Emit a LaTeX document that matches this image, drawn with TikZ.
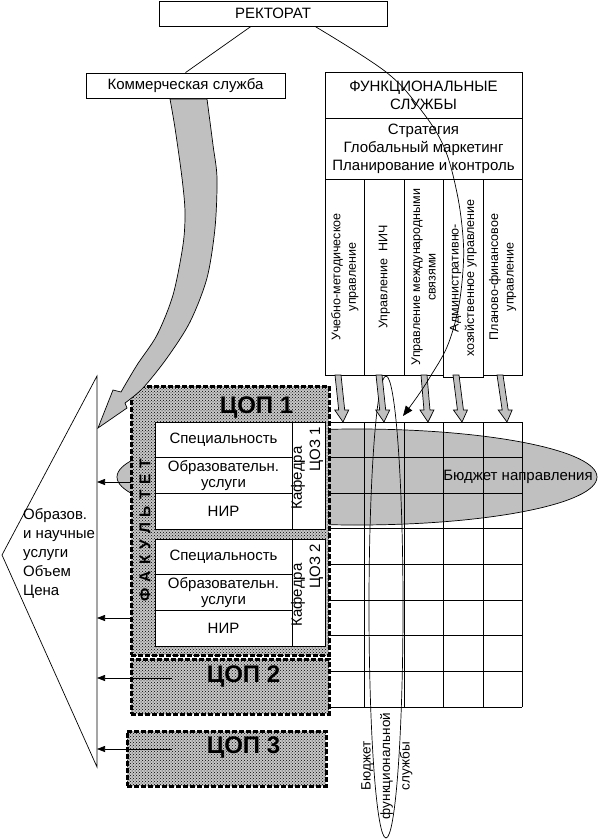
\documentclass[tikz,border=0pt]{standalone}
\usepackage{fontspec}
\setmainfont{Liberation Sans}
\usetikzlibrary{arrows.meta,patterns}
\definecolor{silver}{RGB}{192,192,192}

\begin{document}
\begin{tikzpicture}[x=1pt, y=-1pt,
    box/.style={draw, fill=white, line width=0.8pt, inner sep=0pt, align=center, font=\fontsize{15}{18}\selectfont},
    colbox/.style={box, minimum width=39.5pt, minimum height=196pt},
    coltext/.style={rotate=90, align=center, font=\fontsize{12.5}{15.5}\selectfont},
    cell/.style={box, minimum width=137pt, minimum height=35.67pt, font=\fontsize{15}{16}\selectfont},
    copbox/.style={draw, line width=3pt, dash pattern=on 5pt off 2pt, inner sep=0pt, preaction={fill=black!22}, pattern=crosshatch dots},
    coplabel/.style={font=\bfseries\fontsize{24}{26}\selectfont},
    thinarrow/.style={-{Triangle[length=8pt,width=6pt]}, line width=0.7pt},
    grayarrow/.style={fill=silver, draw=black, line width=0.7pt}]
    \useasboundingbox (0,0) rectangle (602,840);

    % Budget of the direction
    \filldraw[fill=silver, line width=0.7pt] (357,477) ellipse (240 and 48);

    % Drawing the grid
    \foreach \y in {0,...,8}
        \draw[line width=0.8pt] (327,422+35.625*\y) -- (522,422+35.625*\y);
    \foreach \x in {364,404,443,483,522}
        \draw[line width=0.8pt] (\x,422) -- (\x,707);

    % Budget of the functional service
    \draw[line width=0.7pt] (386,607) ellipse (17 and 231);
    \node[coltext, font=\fontsize{13.5}{19.5}\selectfont] (budgetfunc) at (387,766) {Бюджет\\функциональной\\службы};
    \node[font=\fontsize{15}{16}\selectfont] (budgetdir) at (518,477) {Бюджет направления};

    % Adding the ЦОП boxes
    \node[copbox, minimum width=198pt, minimum height=269pt] (cop1) at (230,520.5) {};
    \node[copbox, minimum width=198pt, minimum height=55pt] (cop2) at (230,686.5) {};
    \node[copbox, minimum width=199pt, minimum height=55pt] (cop3) at (226.5,758.5) {};
    \node[coplabel] (cop1lbl) at (256.5,407.5) {ЦОП 1};
    \node[coplabel] (cop2lbl) at (243.5,677) {ЦОП 2};
    \node[coplabel] (cop3lbl) at (243.5,748) {ЦОП 3};
    \node[rotate=90, font=\bfseries\fontsize{15.5}{17}\selectfont] (fak) at (145,530) {\spaceskip=6pt Ф А К У Л Ь Т Е Т};

    % Kafedra blocks
    \foreach \t/\n in {422/1, 539/2} {
        \node[cell] (spec\n) at (223.5,\t+17.83) {Специальность};
        \node[cell, font=\fontsize{15}{16}\selectfont] (obr\n) at (223.5,\t+53.5) {Образовательн.\\услуги};
        \node[cell] (nir\n) at (223.5,\t+89.17) {НИР};
        \node[box, minimum width=33pt, minimum height=107pt] (kaf\n) at (308.5,\t+53.5) {};
        \node[rotate=90, font=\fontsize{15}{16}\selectfont] (kafname\n) at (298,\t+56) {Кафедра};
        \node[rotate=90, font=\fontsize{15}{16}\selectfont] (coz\n) at (316.5,\t+27) {ЦОЗ \n};
    }

    % Services and volume
    \coordinate (penntop) at (97,376);
    \coordinate (penntip) at (2,555);
    \coordinate (pennbot) at (97,767);
    \draw[line width=0.7pt] (penntop) -- (penntip) -- (pennbot) -- cycle;
    \node[anchor=west, align=left, inner sep=0pt, font=\fontsize{15}{19}\selectfont] (services) at (23,553) {Образов.\\и научные\\услуги\\Объем\\Цена};
    \coordinate (a1) at (131,482);
    \coordinate (a2) at (131,618);
    \coordinate (a3) at (172,678);
    \coordinate (a4) at (172,749);
    \foreach \c in {a1,a2,a3,a4}
        \draw[thinarrow] (\c) -- (\c -| penntop);

    % Top of the structure
    \node[box, minimum width=228pt, minimum height=25pt] (rektorat) at (273,13.5) {РЕКТОРАТ};
    \node[box, minimum width=199pt, minimum height=25pt] (kommerch) at (185.5,85.5) {Коммерческая служба};
    \node[box, minimum width=197pt, minimum height=46pt] (funcserv) at (423.5,95) {ФУНКЦИОНАЛЬНЫЕ\\СЛУЖБЫ};
    \node[box, minimum width=197pt, minimum height=61pt] (strategy) at (423.5,148.5) {Стратегия\\Глобальный маркетинг\\Планирование и контроль};
    \draw[line width=0.7pt] ([xshift=-22pt]rektorat.south) -- (kommerch.north);

    % Departments
    \node[colbox] (dep1) at (344.75,277) {};
    \node[colbox] (dep2) at (384.25,277) {};
    \node[colbox] (dep3) at (423.75,277) {};
    \node[colbox, minimum height=198pt] (dep4) at (463.25,278) {};
    \node[colbox] (dep5) at (502.75,277) {};
    \node[coltext] at (dep1) {Учебно-методическое\\управление};
    \node[coltext] at (dep2) {Управление\ \ НИЧ};
    \node[coltext] at (dep3) {Управление международными\\связями};
    \node[coltext] at (dep4) {Административно-\\хозяйственное управление};
    \node[coltext] at (dep5) {Планово-финансовое\\управление};

    % Gray arrows to the grid
    \foreach \a/\b in {338/343, 379/384, 424/428, 456/462, 500/507} {
        \pgfmathsetmacro{\h}{\a+0.74*(\b-\a)}
        \filldraw[grayarrow] (\a-3,375) -- (\h-3,410) -- (\h-7,410) -- (\b,422) -- (\h+7,410) -- (\h+3,410) -- (\a+3,375) -- cycle;
    }

    % Line from the rectorate
    \coordinate (rkout) at ([xshift=42pt]rektorat.south);
    \draw[line width=0.7pt, -{Triangle[length=10pt,width=8pt]}] plot[smooth, tension=0.6] coordinates {(rkout) (386,72) (421,110) (444,147) (457,193) (463,237) (463,270) (458,310) (447,347) (430,377) (417,397) (403,416)};

    % Commercial arrow
    \filldraw[grayarrow] plot[smooth] coordinates {(170,99) (175,128) (182,178) (185,212) (183,245) (173,295) (157,335) (137,365) (121,392)}
        -- (113,390) -- (98,428) -- (127,408) -- (125,403)
        -- plot[smooth] coordinates {(125,403) (143,388) (167,358) (190,322) (207,278) (215,228) (217,178) (213,145) (207,99)} -- cycle;
\end{tikzpicture}
\end{document}
